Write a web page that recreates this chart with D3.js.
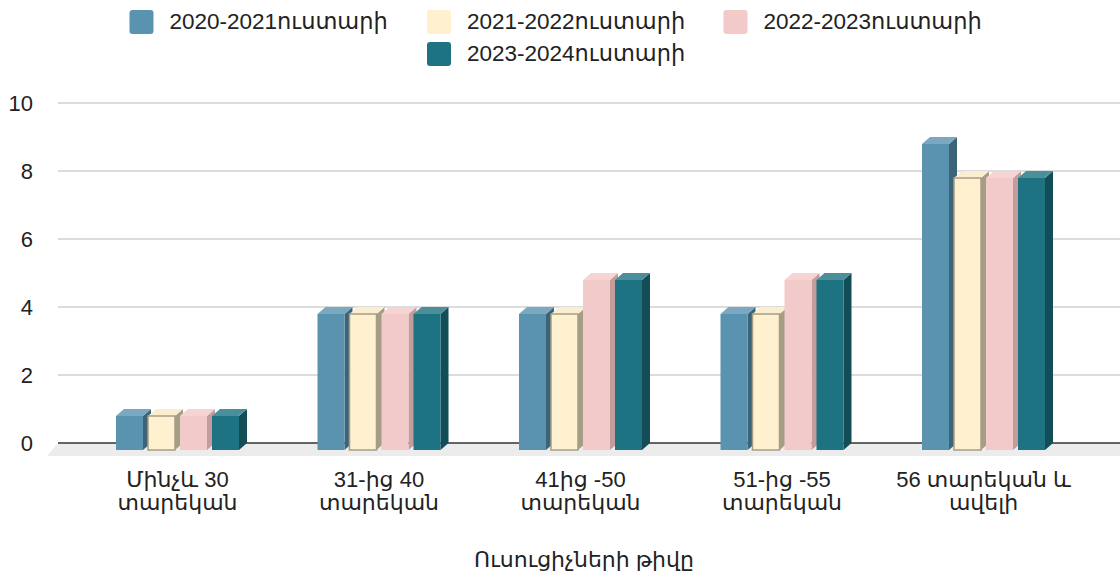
<!DOCTYPE html>
<html>
<head>
<meta charset="utf-8">
<script src="https://cdn.jsdelivr.net/npm/d3@7"></script>
<style>
  body { margin: 0; background: #fff; }
  text { font-family: "Liberation Sans", "DejaVu Sans", sans-serif; fill: #222; }
</style>
</head>
<body>
<div id="chart"></div>
<script>
const categories = [
  ["Մինչև 30", "տարեկան"],
  ["31-ից 40", "տարեկան"],
  ["41ից -50", "տարեկան"],
  ["51-ից -55", "տարեկան"],
  ["56 տարեկան և", "ավելի"]
];
const series = ["2020-2021ուստարի", "2021-2022ուստարի", "2022-2023ուստարի", "2023-2024ուստարի"];
const values2020 = [1, 4, 4, 4, 9];
const values2021 = [1, 4, 4, 4, 8];
const values2022 = [1, 4, 5, 5, 8];
const values2023 = [1, 4, 5, 5, 8];
const yTicks = [0, 2, 4, 6, 8, 10];
const xTitle = "Ուսուցիչների թիվը";

const allValues = [values2020, values2021, values2022, values2023];

// colours: front, side, top, outline
const colors = [
  { front: "#5a93b0", side: "#3b6478", top: "#7aa8c0", stroke: "none" },
  { front: "#fff1cf", side: "#a69d85", top: "#fbeed0", stroke: "#a59d86" },
  { front: "#f3caca", side: "#c49c9c", top: "#f6d4d4", stroke: "none" },
  { front: "#1e7383", side: "#124d58", top: "#4b8f9b", stroke: "none" }
];

const W = 1120, H = 580;
const dx = 8, dy = 7; // 3D depth

const svg = d3.select("#chart").append("svg")
  .attr("width", W).attr("height", H);

const y = d3.scaleLinear().domain([0, 10]).range([443, 103]);

const x0 = d3.scaleBand()
  .domain(d3.range(categories.length))
  .range([76.75, 1084.25])
  .paddingInner(0);

const x1 = d3.scaleBand()
  .domain(d3.range(series.length))
  .range([0, 123])
  .paddingInner(5 / 32);

const gridLeft = 58, gridRight = W;

// gridlines
svg.append("g").selectAll("line")
  .data(yTicks.filter(t => t > 0))
  .enter().append("line")
  .attr("x1", gridLeft).attr("x2", gridRight)
  .attr("y1", d => y(d)).attr("y2", d => y(d))
  .attr("stroke", "#d0d0d0").attr("stroke-width", 1.5);

// floor
svg.append("path")
  .attr("d", `M${gridLeft},${y(0)} L${gridRight},${y(0)} L${gridRight},${y(0) + 13} L${gridLeft - 11},${y(0) + 13} Z`)
  .attr("fill", "#ececec");

// baseline
svg.append("line")
  .attr("x1", gridLeft).attr("x2", gridRight)
  .attr("y1", y(0)).attr("y2", y(0))
  .attr("stroke", "#333").attr("stroke-width", 1.5);

// y tick labels
svg.append("g").selectAll("text")
  .data(yTicks)
  .enter().append("text")
  .attr("x", 33).attr("y", d => y(d))
  .attr("dy", "0.35em")
  .attr("text-anchor", "end")
  .style("font-size", "22px")
  .text(d => d);

// bars
const bars = [];
categories.forEach((c, i) => {
  series.forEach((s, j) => {
    bars.push({ cat: i, ser: j, value: allValues[j][i] });
  });
});

const bw = x1.bandwidth();
const barG = svg.append("g").selectAll("g")
  .data(bars)
  .enter().append("g");

barG.each(function(d) {
  const g = d3.select(this);
  const fx = x0(d.cat) + (x0.bandwidth() - 123) / 2 + x1(d.ser);
  const yt = y(d.value);
  const yb = y(0);
  const col = colors[d.ser];
  // side face
  g.append("path")
    .attr("d", `M${fx + bw},${yt + dy} L${fx + bw + dx},${yt} L${fx + bw + dx},${yb} L${fx + bw},${yb + dy} Z`)
    .attr("fill", col.side);
  // top face
  g.append("path")
    .attr("d", `M${fx},${yt + dy} L${fx + dx},${yt} L${fx + bw + dx},${yt} L${fx + bw},${yt + dy} Z`)
    .attr("fill", col.top);
  // front face
  g.append("rect")
    .attr("x", fx).attr("y", yt + dy)
    .attr("width", bw).attr("height", yb - yt)
    .attr("fill", col.front)
    .attr("stroke", col.stroke)
    .attr("stroke-width", 1.5);
});

// x labels
const xl = svg.append("g").selectAll("text")
  .data(categories)
  .enter().append("text")
  .attr("x", (d, i) => x0(i) + x0.bandwidth() / 2)
  .attr("y", 487)
  .attr("text-anchor", "middle")
  .style("font-size", "22px");
xl.each(function(d) {
  const t = d3.select(this);
  d.forEach((line, k) => {
    t.append("tspan")
      .attr("x", t.attr("x"))
      .attr("dy", k === 0 ? 0 : 23)
      .text(line);
  });
});

// x axis title
svg.append("text")
  .attr("x", 584).attr("y", 567)
  .attr("text-anchor", "middle")
  .style("font-size", "22px")
  .text(xTitle);

// legend
const legendPos = [[129.5, 10], [427, 10], [723.5, 10], [427, 42]];
const leg = svg.append("g").selectAll("g")
  .data(series)
  .enter().append("g")
  .attr("transform", (d, i) => `translate(${legendPos[i][0]},${legendPos[i][1]})`);
leg.append("rect")
  .attr("width", 24).attr("height", 24).attr("rx", 3)
  .attr("fill", (d, i) => colors[i].front);
leg.append("text")
  .attr("x", 40).attr("y", 19)
  .style("font-size", "22.5px")
  .text(d => d);
</script>
</body>
</html>
